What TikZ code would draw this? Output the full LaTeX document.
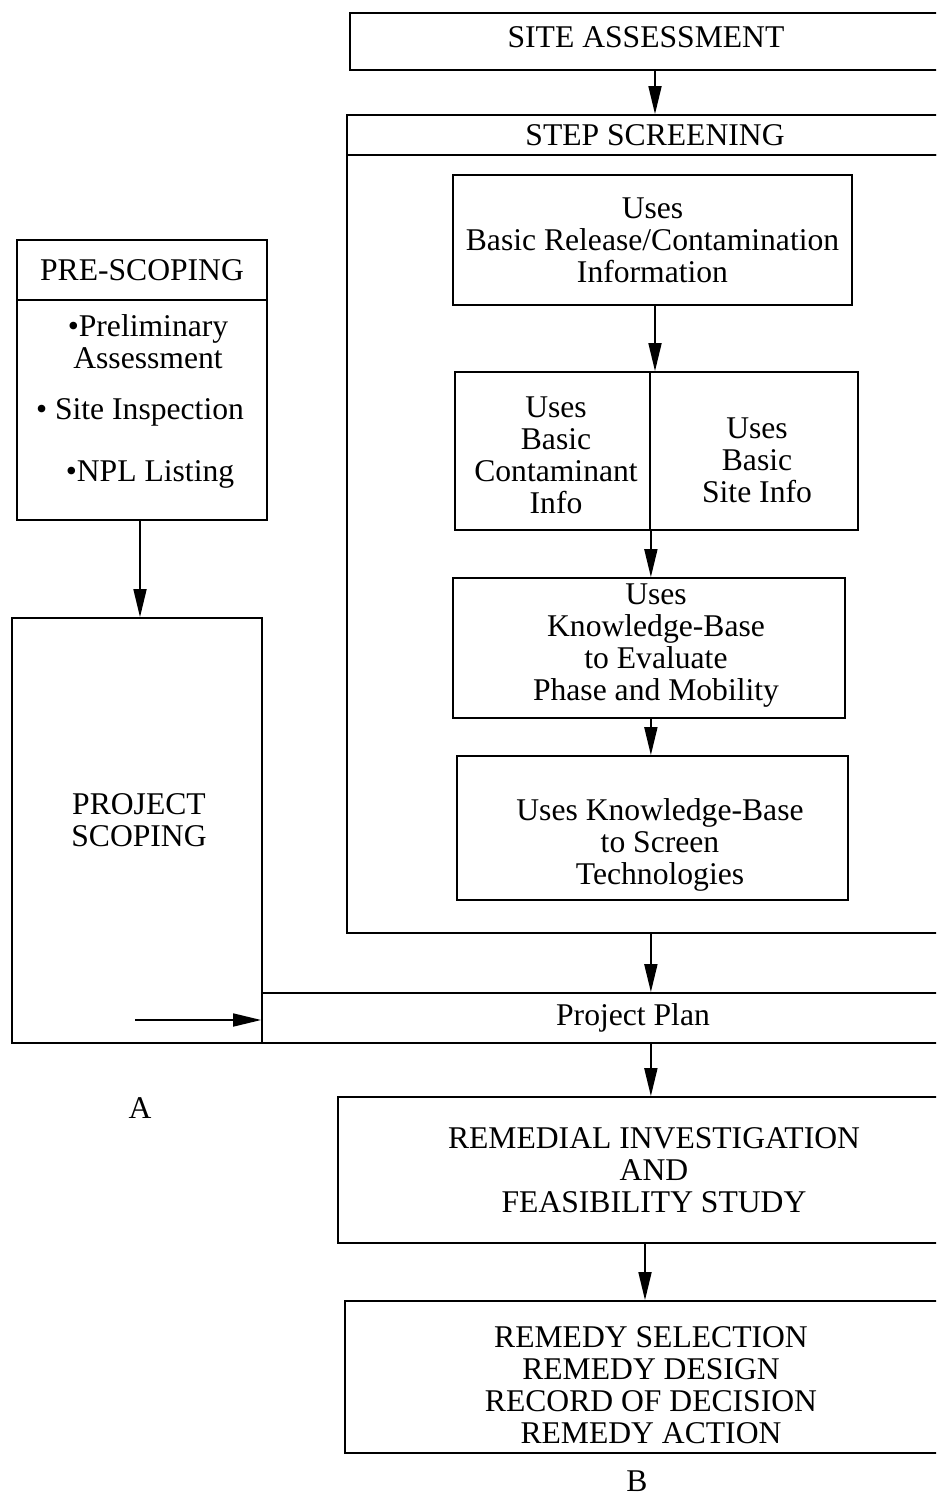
\documentclass[tikz,border=0pt]{standalone}
\usepackage{fontspec}
\setmainfont{Liberation Serif}
\usetikzlibrary{arrows.meta}
\tikzset{
  box/.style={draw, line width=1pt, inner sep=0pt, align=center, font=\fontsize{18}{18.2}\selectfont},
  txt/.style={inner sep=0pt, align=center, font=\fontsize{18}{18.2}\selectfont},
  arr/.style={line width=1pt, -{Triangle[length=0.56cm,width=0.26cm]}}
}
\newcommand\mkbox[6]{%
  \node[box, minimum width={(#4-#2)*0.02cm}, minimum height={(#5-#3)*0.02cm}] (#1) at ({(#2+#4)/2},{(#3+#5)/2}) {#6};}
\begin{document}
\begin{tikzpicture}[x=0.02cm, y=-0.02cm]
\clip (0,0) rectangle (936,1500);
\fill[white] (0,0) rectangle (936,1500);
% right column
\mkbox{site}{350}{13}{942}{70}{}
\node[txt] (sitetxt0) at (646,37) {SITE ASSESSMENT};
\mkbox{sshead}{347}{115}{963}{155}{STEP SCREENING}
\mkbox{ssbody}{347}{155}{963}{933}{}
\mkbox{rel}{453}{175}{852}{305}{Uses\\Basic Release/Contamination\\Information}
\mkbox{cont}{455}{372}{650}{530}{}
\mkbox{siteinfo}{650}{372}{858}{530}{}
\node[txt] (conttxt) at (556,455) {Uses\\Basic\\Contaminant\\Info};
\node[txt] (sitetxt) at (757,460) {Uses\\Basic\\Site Info};
\mkbox{kb1}{453}{578}{845}{718}{}
\node[txt] (kb1txt) at (656,646) {Uses\\Knowledge-Base\\to Evaluate\\Phase and Mobility};
\mkbox{kb2}{457}{756}{848}{900}{}
\node[txt] (kb2txt) at (660,845) {Uses Knowledge-Base\\to Screen\\Technologies};
% left column
\mkbox{pre}{17}{240}{267}{300}{PRE-SCOPING}
\mkbox{prebody}{17}{300}{267}{520}{}
\node[txt] (p1) at (148,342) {\textbullet Preliminary\\Assessment};
\node[txt] (p2) at (140,412) {\textbullet{} Site Inspection};
\node[txt] (p3) at (150,474) {\textbullet NPL Listing};
\mkbox{scope}{12}{618}{262}{1043}{}
\node[txt] (scopetxt) at (139,820) {PROJECT\\SCOPING};
\mkbox{plan}{262}{993}{1004}{1043}{Project Plan}
\mkbox{rifs}{338}{1097}{970}{1243}{REMEDIAL INVESTIGATION\\AND\\FEASIBILITY STUDY}
\mkbox{rem}{345}{1301}{955}{1453}{}
\node[txt] (remtxt) at (651,1385) {REMEDY SELECTION\\REMEDY DESIGN\\RECORD OF DECISION\\REMEDY ACTION};
\node[txt] (A) at (140,1108) {A};
\node[txt] (B) at (637,1481) {B};
% connectors
\coordinate (ax) at (655,0);
\coordinate (bx) at (645,0);
\coordinate (cx) at (140,0);
\coordinate (s0) at (135,1020);
\draw[arr] (site.south -| ax) -- (sshead.north -| ax);
\draw[arr] (rel.south -| ax) -- (cont.north -| ax);
\draw[arr] (cont.south east) -- (kb1.north -| cont.east);
\draw[arr] (kb1.south -| cont.east) -- (kb2.north -| cont.east);
\draw[arr] (ssbody.south -| cont.east) -- (plan.north -| cont.east);
\draw[arr] (plan.south -| cont.east) -- (rifs.north -| cont.east);
\draw[arr] (rifs.south -| bx) -- (rem.north -| bx);
\draw[arr] (prebody.south -| cx) -- (scope.north -| cx);
\draw[arr] (s0) -- (s0 -| plan.west);
\end{tikzpicture}
\end{document}
